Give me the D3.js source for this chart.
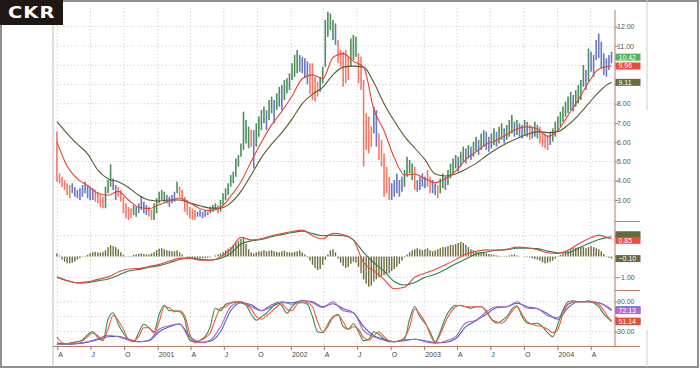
<!DOCTYPE html>
<html>
<head>
<meta charset="utf-8">
<script src="https://cdn.jsdelivr.net/npm/d3@7"></script>
<style>
  html, body { margin: 0; padding: 0; background: #fff; }
  svg { display: block; font-family: "Liberation Sans", Arial, sans-serif; }
</style>
</head>
<body>
<svg id="chart" width="700" height="369"></svg>
<script>
// weekly bars, first bar = week ending 31 Mar 2000
const firstWeek = new Date(2000, 2, 31);

const lows = [
  3.95,3.87,3.66,3.52,3.26,3.09,3.35,3.17,3.09,3.00,
  3.17,3.35,3.09,3.00,3.00,2.91,2.83,2.65,2.57,2.57,
  3.35,3.69,3.52,3.00,3.17,2.91,2.31,2.05,1.96,2.05,
  2.22,2.13,2.31,2.48,2.31,2.22,2.13,1.96,1.96,2.31,
  2.83,3.00,2.91,2.83,2.65,2.83,2.91,3.35,3.17,3.00,
  2.39,2.22,2.05,1.96,1.96,2.13,2.13,2.05,2.13,2.22,
  2.31,2.39,2.48,2.31,2.39,2.74,3.00,3.26,3.69,3.87,
  4.21,4.73,5.25,5.60,5.94,5.68,5.77,4.64,5.77,6.29,
  6.63,6.98,6.63,7.15,7.50,6.98,7.67,7.85,7.67,8.19,
  8.54,8.71,9.23,9.40,9.58,9.66,9.58,9.32,9.00,8.50,
  8.19,8.11,8.37,8.62,9.06,9.92,11.48,11.83,11.31,11.05,
  10.10,9.92,8.88,9.06,9.23,9.92,10.27,10.44,9.06,8.71,
  4.73,5.60,5.42,5.77,6.46,5.77,5.08,4.73,3.17,3.35,
  3.00,3.00,3.17,3.35,3.17,3.43,3.69,4.21,4.38,4.04,
  3.52,3.43,3.52,3.69,3.61,3.69,3.35,3.35,3.26,3.09,
  3.35,3.61,3.52,3.78,4.12,4.38,4.64,4.47,4.73,4.99,
  4.90,5.16,5.08,5.25,5.51,5.34,5.60,5.77,5.60,5.51,
  5.68,5.85,5.77,5.94,6.12,5.94,6.12,6.29,6.46,6.29,
  6.38,6.29,6.20,6.38,6.29,6.12,6.20,6.29,6.20,5.94,
  5.77,5.68,5.60,5.85,6.03,6.29,6.55,6.81,7.07,7.33,
  7.50,7.67,7.59,7.85,8.02,8.19,8.88,8.71,9.14,9.66,
  9.40,10.27,10.36,9.84,9.49,9.40,9.75,10.10
];

const highs = [
  6.55,4.38,4.21,4.04,3.87,3.78,3.87,3.66,3.52,3.61,
  3.78,3.95,3.78,3.69,3.61,3.55,3.43,3.26,3.17,3.69,
  4.04,4.85,4.12,3.78,3.69,3.52,3.17,2.83,2.65,2.57,
  2.74,2.65,2.83,3.17,2.91,2.74,2.65,2.48,2.83,3.09,
  3.43,3.52,3.43,3.26,3.17,3.26,3.43,3.95,3.69,3.52,
  3.17,3.00,2.65,2.57,2.48,2.39,2.48,2.39,2.48,2.39,
  2.65,2.74,2.83,2.74,3.00,3.35,3.61,3.87,4.30,4.47,
  5.16,5.34,5.94,7.59,7.15,6.81,6.63,6.63,6.98,7.33,
  7.67,7.85,7.67,8.19,8.37,8.19,8.54,8.88,8.97,9.23,
  9.32,9.58,10.10,10.53,10.79,10.53,10.44,10.36,10.20,10.10,
  10.10,9.40,9.14,9.40,9.92,12.35,12.78,12.69,12.35,12.17,
  11.31,10.79,10.70,10.79,10.44,11.39,11.57,11.48,10.62,10.44,
  9.23,7.50,7.33,6.81,7.85,7.67,6.46,6.12,5.42,4.73,
  4.21,3.87,4.04,4.38,4.04,4.21,4.56,5.25,5.08,4.90,
  4.73,4.04,4.21,4.38,4.21,4.56,4.21,4.04,3.87,3.78,
  4.12,4.38,4.21,4.56,4.90,5.16,5.34,5.25,5.51,5.77,
  5.68,5.85,5.77,6.03,6.29,6.12,6.46,6.63,6.55,6.29,
  6.46,6.72,6.55,6.81,6.98,6.72,6.90,7.15,7.41,7.07,
  7.15,6.98,6.90,7.15,7.07,6.90,6.81,7.07,6.90,6.81,
  6.55,6.46,6.38,6.55,6.72,7.07,7.33,7.59,7.85,8.11,
  8.37,8.62,8.45,8.71,8.97,9.23,10.01,9.75,10.87,10.70,
  10.53,11.31,11.65,11.22,10.62,10.36,10.53,10.70
];

// bar colour per week: g = up, r = down, b = neutral
const barCodes = (
  "rrrrrrbbbbbbbbbrrrrgggbbrrrrrrggbbbbrrgggggbbbbg" +
  "rrrrrrrbbbbbgggrggggggggggggrbggggbggbggbgggggg" +
  "bbbbrrrrggggggbrrrrrgggrrrrrrbbrrrrrbbbbbggggr" +
  "bbbbrrbbrggbggggbggbgbggbggbbggbggbgggbgbbgbrbgb" +
  "rrrrbggggggggbggggbgbbbbbbbbb"
).split("");

const closeLast = 10.42;

// moving averages / indicator lines sampled every 4 weeks (+ last week)
const lineWeeks = d3.range(0, 217, 4).concat([217]);

const ema13 = [
  6.03,4.75,4.10,3.75,3.35,3.25,3.45,3.00,2.62,2.55,
  2.75,2.95,3.10,2.85,2.55,2.45,2.60,3.20,3.95,5.00,
  6.00,6.90,7.60,8.40,9.30,9.50,9.30,10.40,10.60,10.20,
  9.90,7.70,6.60,5.20,4.30,4.35,4.10,3.90,4.10,4.50,
  5.10,5.50,5.90,6.10,6.40,6.70,6.80,6.70,6.30,6.60,
  7.40,8.20,9.10,9.80,9.95,9.96
];

const ema26 = [
  7.07,6.45,5.90,5.40,4.55,4.10,3.95,3.65,3.25,3.00,
  2.95,3.00,3.00,2.85,2.70,2.58,2.58,2.85,3.45,4.30,
  5.20,5.90,6.50,7.20,8.00,8.50,8.85,9.50,9.90,9.95,
  9.90,9.10,8.00,7.10,6.30,5.70,5.10,4.35,4.25,4.35,
  4.60,4.90,5.30,5.65,5.95,6.20,6.40,6.55,6.50,6.55,
  6.90,7.40,8.00,8.60,9.05,9.11
];

const macdLine = [
  -0.97,-1.15,-1.26,-1.22,-1.10,-0.98,-0.75,-0.60,-0.58,-0.48,
  -0.38,-0.22,-0.08,-0.08,-0.18,-0.18,-0.02,0.35,0.92,0.80,
  0.85,1.00,1.10,1.20,1.27,1.00,0.85,1.12,1.05,0.79,
  -0.30,-0.68,-1.10,-1.55,-1.48,-1.00,-0.80,-0.62,-0.40,-0.15,
  0.12,0.25,0.32,0.31,0.35,0.45,0.42,0.33,0.18,0.15,
  0.30,0.60,0.85,1.03,0.88,0.85
];

const signalLine = [
  -1.00,-1.17,-1.27,-1.26,-1.17,-1.08,-0.90,-0.70,-0.62,-0.52,
  -0.44,-0.30,-0.14,-0.08,-0.14,-0.17,-0.10,0.15,0.60,0.75,
  0.82,0.95,1.05,1.15,1.22,1.10,1.00,1.03,1.00,0.80,
  0.20,-0.30,-0.70,-1.20,-1.37,-1.25,-1.00,-0.85,-0.62,-0.35,
  -0.12,0.12,0.22,0.30,0.33,0.40,0.40,0.38,0.26,0.18,
  0.18,0.40,0.62,0.82,0.93,0.95
];

// MACD histogram, one value per week
const macdHist = [
  0.15,0.05,-0.15,-0.25,-0.32,-0.33,-0.30,-0.25,-0.15,-0.08,
  -0.02,0.03,0.08,0.15,0.20,0.22,0.20,0.18,0.22,0.30,
  0.45,0.55,0.50,0.45,0.35,0.20,0.08,0.02,-0.02,0.02,
  0.08,0.10,0.12,0.15,0.12,0.10,0.10,0.15,0.20,0.30,
  0.38,0.40,0.35,0.30,0.28,0.25,0.25,0.30,0.20,0.10,
  0.00,-0.05,-0.10,-0.12,-0.12,-0.10,-0.10,-0.08,-0.08,-0.06,
  -0.04,0.00,0.05,0.10,0.15,0.22,0.30,0.38,0.45,0.55,
  0.65,0.75,0.85,0.90,0.60,0.35,0.20,0.15,0.20,0.25,
  0.25,0.30,0.25,0.28,0.30,0.25,0.22,0.20,0.25,0.28,
  0.22,0.20,0.20,0.22,0.25,0.30,0.20,0.10,-0.05,-0.20,
  -0.40,-0.55,-0.65,-0.60,-0.40,-0.15,0.10,0.30,0.35,0.20,
  -0.10,-0.30,-0.45,-0.55,-0.50,-0.35,-0.25,-0.30,-0.50,-0.80,
  -1.10,-1.30,-1.45,-1.40,-1.20,-1.10,-1.00,-0.95,-0.90,-0.85,
  -0.80,-0.70,-0.60,-0.50,-0.35,-0.20,-0.05,0.10,0.20,0.30,
  0.35,0.40,0.35,0.30,0.35,0.40,0.30,0.25,0.30,0.35,
  0.40,0.45,0.45,0.50,0.55,0.55,0.60,0.65,0.70,0.65,
  0.55,0.45,0.35,0.30,0.25,0.20,0.20,0.18,0.15,0.12,
  0.10,0.08,0.05,0.03,0.02,0.02,0.03,0.05,0.08,0.10,
  0.05,0.02,0.00,-0.02,-0.03,-0.05,-0.08,-0.12,-0.15,-0.20,
  -0.28,-0.33,-0.30,-0.25,-0.20,-0.10,-0.02,0.08,0.15,0.20,
  0.28,0.35,0.40,0.42,0.45,0.48,0.45,0.40,0.45,0.50,
  0.45,0.40,0.35,0.25,0.12,0.02,-0.06,-0.10
];

// stochastics: fast pair every 2 weeks, slow pair every 4 weeks
const stochWeeks = d3.range(0, 217, 2).concat([217]);

const stochK = [
  8,6,6,8,10,14,24,30,18,12,
  55,68,45,27,15,10,28,45,38,30,
  65,83,72,72,70,55,12,10,13,20,
  40,77,72,85,88,90,88,83,65,53,
  60,67,78,88,82,67,80,88,88,85,
  60,30,28,45,60,65,40,35,46,30,
  12,15,30,25,15,10,10,12,15,55,
  80,60,47,30,10,30,58,75,83,82,
  80,77,80,80,70,55,47,52,60,75,
  82,60,47,46,47,40,28,20,45,73,
  90,92,90,90,92,88,80,65,55,50
];

const stochD = [
  20,8,6,8,10,12,20,27,22,13,
  35,63,52,35,15,12,20,38,38,27,
  50,80,78,70,72,62,25,8,12,18,
  28,55,77,80,87,89,90,85,75,60,
  55,62,70,80,86,75,72,85,90,88,
  80,50,30,40,58,63,50,35,40,35,
  18,13,22,30,20,12,10,12,18,40,
  75,65,50,25,7,25,50,68,80,83,
  80,80,80,80,72,55,50,47,55,70,
  80,65,50,45,42,40,35,28,35,65,
  85,90,90,90,90,88,85,72,57,51.14
];

const slowK = [
  7,6,7,10,16,23,20,13,10,13,
  35,42,46,15,8,13,40,80,90,80,
  72,84,90,85,93,88,78,90,72,68,
  32,20,13,10,14,15,10,7,11,20,
  48,53,70,80,80,90,77,76,62,58,
  85,90,90,88,76,72.13
];

const slowD = [
  5,5,6,9,14,20,21,15,10,12,
  30,40,45,20,9,11,30,72,88,84,
  72,80,88,88,92,90,80,86,76,68,
  40,22,15,10,12,15,12,8,9,16,
  40,52,65,78,80,87,80,76,66,55,
  78,90,90,88,78,74
];

const quarterTicks = d3.timeMonth.range(new Date(2000, 3, 1), new Date(2004, 4, 1), 3);
const quarterLabels = ["A","J","O","2001","A","J","O","2002","A","J","O","2003","A","J","O","2004","A"];

const priceTicks = d3.range(3, 13);
const macdTicks = [-1, 0, 1];
const stochTicks = [30, 60, 90];

const colors = {
  g: "#4b8f5c",
  r: "#f27a68",
  b: "#6876c4",
  ema13: "#e8442f",
  ema26: "#5b5a2e",
  macd: "#e8483a",
  signal: "#2f7d4b",
  hist: "#6e6c3a",
  stK: "#3e8a4c",
  stD: "#ef5a40",
  slowK: "#a764cf",
  slowD: "#4c5cc4",
  axis: "#b97a66",
  grid: "#d6d6d6",
  label: "#555"
};

const smallFont = "'Liberation Sans Narrow', 'Liberation Sans', Arial, sans-serif";

const weekDate = i => d3.timeDay.offset(firstWeek, 7 * i);
const last = a => a[a.length - 1];

const svg = d3.select("#chart");

const x = d3.scaleTime()
  .domain([new Date(2000, 3, 1), new Date(2004, 3, 1)])
  .range([57.3, 590.7]);
const yPrice = d3.scaleLinear().domain([3, 12]).range([200, 26.7]);
const yMacd = d3.scaleLinear().domain([-1, 1]).range([277.3, 235.7]);
const yStoch = d3.scaleLinear().domain([30, 90]).range([331.7, 301.7]);

const plotLeft = 53, plotRight = 615;

// frame
svg.append("rect")
  .attr("x", 1).attr("y", 1).attr("width", 697).attr("height", 366)
  .attr("fill", "#fff").attr("stroke", "#8f8f8f").attr("stroke-width", 2);

svg.append("line")
  .attr("x1", 647).attr("x2", 647).attr("y1", 0).attr("y2", 110)
  .attr("stroke", "#cfcfcf");
svg.append("line")
  .attr("x1", 647).attr("x2", 647).attr("y1", 330).attr("y2", 367)
  .attr("stroke", "#cfcfcf");

svg.append("line")
  .attr("x1", plotLeft).attr("x2", plotLeft).attr("y1", 25).attr("y2", 367)
  .attr("stroke", "#bdbdbd");

// gridlines
const grid = svg.append("g")
  .attr("stroke", colors.grid)
  .attr("stroke-dasharray", "1.5,2");

grid.selectAll(".vg")
  .data(quarterTicks)
  .enter()
  .append("line")
  .attr("x1", d => x(d)).attr("x2", d => x(d))
  .attr("y1", 8).attr("y2", 346);

function hGrid(ticks, scale) {
  grid.append("g")
    .selectAll("line")
    .data(ticks)
    .enter()
    .append("line")
    .attr("x1", plotLeft).attr("x2", plotRight)
    .attr("y1", d => scale(d)).attr("y2", d => scale(d));
}
hGrid(priceTicks, yPrice);
hGrid([-1, 1], yMacd);
hGrid(stochTicks, yStoch);

// price bars
svg.append("g")
  .selectAll("line")
  .data(highs)
  .enter()
  .append("line")
  .attr("x1", (d, i) => x(weekDate(i)))
  .attr("x2", (d, i) => x(weekDate(i)))
  .attr("y1", d => yPrice(d))
  .attr("y2", (d, i) => yPrice(lows[i]))
  .attr("stroke", (d, i) => colors[barCodes[i]] || colors.b)
  .attr("stroke-width", 1.6);

function drawLine(weeks, values, scale, color, width) {
  const line = d3.line()
    .x((d, k) => x(weekDate(weeks[k])))
    .y(d => scale(d))
    .curve(d3.curveMonotoneX);
  svg.append("path")
    .datum(values)
    .attr("d", line)
    .attr("fill", "none")
    .attr("stroke", color)
    .attr("stroke-width", width);
}

drawLine(lineWeeks, ema26, yPrice, colors.ema26, 1.1);
drawLine(lineWeeks, ema13, yPrice, colors.ema13, 1.1);

// MACD histogram
svg.append("g")
  .selectAll("rect")
  .data(macdHist)
  .enter()
  .append("rect")
  .attr("x", (d, i) => x(weekDate(i)) - 0.7)
  .attr("width", 1.4)
  .attr("y", d => Math.min(yMacd(d), yMacd(0)))
  .attr("height", d => Math.abs(yMacd(d) - yMacd(0)))
  .attr("fill", colors.hist);

drawLine(lineWeeks, signalLine, yMacd, colors.signal, 1.1);
drawLine(lineWeeks, macdLine, yMacd, colors.macd, 1.1);

// stochastics
drawLine(lineWeeks, slowD, yStoch, colors.slowD, 1.1);
drawLine(lineWeeks, slowK, yStoch, colors.slowK, 1.1);
drawLine(stochWeeks, stochK, yStoch, colors.stK, 1.1);
drawLine(stochWeeks, stochD, yStoch, colors.stD, 1.1);

// right axes; labels sitting under a value tag are left out
const tagYs = [
  yPrice(closeLast), yPrice(last(ema13)), yPrice(last(ema26)),
  yMacd(last(signalLine)), yMacd(last(macdLine)), yMacd(last(macdHist)),
  yStoch(last(slowK)), yStoch(last(stochD))
];
const freeOfTags = yv => tagYs.every(t => Math.abs(t - yv) > 5);

function rightAxis(scale, ticks) {
  const g = svg.append("g")
    .attr("transform", "translate(" + plotRight + ",0)")
    .call(d3.axisRight(scale).tickValues(ticks).tickSize(3)
      .tickFormat(d => freeOfTags(scale(d)) ? d3.format(".2f")(d) : ""));
  g.select(".domain").remove();
  g.selectAll(".tick line").attr("stroke", colors.axis);
  g.selectAll(".tick text")
    .attr("x", 2)
    .attr("fill", colors.label)
    .attr("font-size", 7)
    .attr("font-family", smallFont);
}
rightAxis(yPrice, priceTicks);
rightAxis(yMacd, macdTicks);
rightAxis(yStoch, stochTicks);

svg.append("line")
  .attr("x1", plotRight).attr("x2", plotRight).attr("y1", 10).attr("y2", 346)
  .attr("stroke", colors.axis);
[221.5, 290.5].forEach(yv => {
  svg.append("line")
    .attr("x1", plotRight).attr("x2", 640).attr("y1", yv).attr("y2", yv)
    .attr("stroke", colors.axis);
});

// bottom time axis
const xAxis = svg.append("g")
  .attr("transform", "translate(0,346)")
  .call(d3.axisBottom(x).tickValues(quarterTicks).tickSize(4)
    .tickFormat((d, i) => quarterLabels[i]));
xAxis.select(".domain").remove();
xAxis.selectAll(".tick line").attr("stroke", "#777");
xAxis.selectAll(".tick text")
  .attr("text-anchor", "start")
  .attr("x", 0.5)
  .attr("y", 6)
  .attr("fill", "#444")
  .attr("font-size", 7)
  .attr("font-family", smallFont);
svg.append("line")
  .attr("x1", plotLeft).attr("x2", 640).attr("y1", 346.5).attr("y2", 346.5)
  .attr("stroke", colors.axis);

// value tags on the right
const fmt = d3.format(".2f");
function tag(yv, color, value) {
  const g = svg.append("g").attr("transform", "translate(615.5," + yv + ")");
  g.append("rect")
    .attr("x", 0).attr("y", -3.5).attr("width", 25).attr("height", 7)
    .attr("fill", color);
  if (value !== null) {
    g.append("text")
      .attr("x", 3).attr("y", 2.5)
      .attr("font-size", 7)
      .attr("fill", "#fff")
      .attr("font-family", smallFont)
      .text(fmt(value));
  }
}

tag(yPrice(closeLast), "#55b45a", closeLast);
tag(yPrice(last(ema13)), "#ec4a3a", last(ema13));
tag(yPrice(last(ema26)), "#6b6a3a", last(ema26));

// signal tag is almost covered by the MACD tag
tag(yMacd(last(signalLine)) - 2, "#5f6d3a", null);
tag(yMacd(last(macdLine)) + 1.5, "#ec4a3a", last(macdLine));
tag(yMacd(last(macdHist)), "#6b6a3a", last(macdHist));

tag(yStoch(last(slowD)), "#5b62c4", null);
tag(yStoch(last(slowK)), "#b46cc8", last(slowK));
tag(yStoch(last(stochK)), "#4a8a52", null);
tag(yStoch(last(stochD)), "#ec4a3a", last(stochD));

// logo
svg.append("rect")
  .attr("x", 0).attr("y", 0).attr("width", 63).attr("height", 25)
  .attr("fill", "#1f1713");
svg.append("text")
  .attr("transform", "translate(8,18) scale(1.3,1)")
  .attr("fill", "#fff")
  .attr("font-family", "'DejaVu Sans', sans-serif")
  .attr("font-weight", "bold")
  .attr("font-size", 15)
  .attr("letter-spacing", 0.8)
  .text("CKR");
</script>
</body>
</html>
